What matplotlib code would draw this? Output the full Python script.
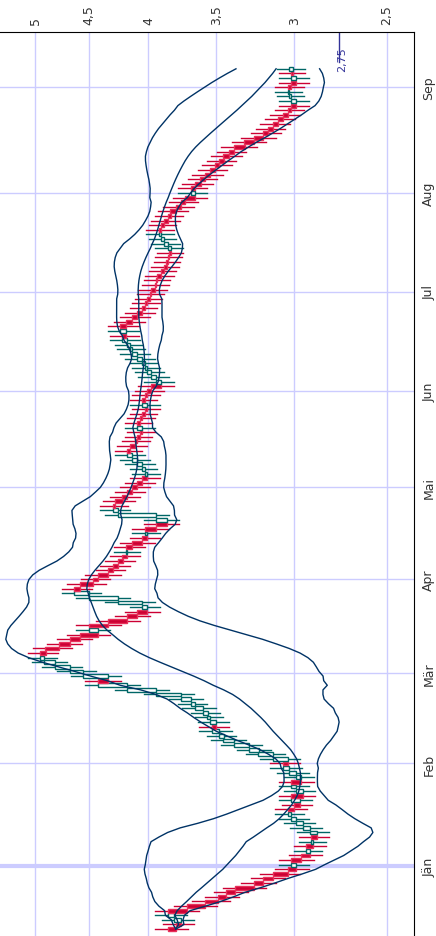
import numpy as np
import matplotlib
matplotlib.use("Agg")
import matplotlib.pyplot as plt
from matplotlib.ticker import FixedLocator, NullLocator

closes = [3.79,3.75,3.80,3.85,3.71,3.58,3.49,3.43,3.37,3.25,
          3.19,3.13,3.04,2.99,3.02,2.96,2.91,2.93,2.89,2.90,
          2.87,2.91,2.95,2.99,3.02,3.04,3.00,2.97,3.02,2.95,
          2.99,3.02,2.96,2.99,3.03,3.07,3.04,3.13,3.22,3.28,
          3.38,3.45,3.48,3.53,3.50,3.54,3.56,3.59,3.65,3.68,
          3.75,3.94,4.17,4.42,4.33,4.55,4.67,4.81,4.91,4.95,
          4.90,4.77,4.67,4.58,4.42,4.50,4.33,4.17,4.09,4.01,
          4.05,4.25,4.50,4.63,4.58,4.46,4.42,4.33,4.29,4.25,
          4.21,4.17,4.18,4.13,4.05,4.01,4.03,3.94,3.86,3.94,
          4.25,4.29,4.27,4.21,4.17,4.13,4.09,4.05,4.01,4.03,
          4.05,4.09,4.13,4.17,4.15,4.11,4.09,4.07,4.05,4.09,
          4.07,4.05,4.03,4.01,4.05,4.03,4.01,3.98,3.90,3.94,
          3.98,4.01,4.03,4.05,4.09,4.13,4.15,4.17,4.21,4.18,
          4.23,4.18,4.13,4.09,4.05,4.03,4.01,3.99,3.98,3.95,
          3.94,3.93,3.90,3.88,3.86,3.85,3.84,3.83,3.85,3.88,
          3.90,3.92,3.90,3.88,3.85,3.83,3.79,3.75,3.72,3.65,
          3.68,3.65,3.61,3.58,3.54,3.51,3.48,3.45,3.41,3.38,
          3.31,3.25,3.19,3.16,3.13,3.10,3.07,3.04,3.02,2.99,
          3.02,3.03,3.04,3.02,2.99,3.02,3.01,3.03]
first_open = 3.85
month_pos = [13.7, 36, 55.7, 76, 96, 117, 138.5, 160, 183]
month_labels = ["Jän", "Feb", "Mär", "Apr", "Mai", "Jun", "Jul", "Aug", "Sep"]
price_ticks = [5, 4.5, 4, 3.5, 3, 2.5]
price_labels = ["5", "4,5", "4", "3,5", "3", "2,5"]
last_label = "2,75"

c = np.array(closes)
o = np.concatenate([[first_open], c[:-1]])
n = len(c)
idx = np.arange(n)
hi = np.maximum(o, c) * 1.025
lo = np.minimum(o, c) / 1.025

fig = plt.figure(figsize=(4.36, 9.37), dpi=100)
ax = fig.add_axes([0, 0, 414/436, 1 - 33/937])
ax.set_xscale("log")

red, teal = "#cc0033", "#006666"
for i in range(n):
    up = c[i] >= o[i]
    col = teal if up else red
    ax.plot([lo[i], hi[i]], [i, i], color=col, lw=1, zorder=3)
    left, w = min(o[i], c[i]), abs(c[i] - o[i]) + 1e-3
    if up:
        ax.barh(i, w, left=left, height=0.85, facecolor="white", edgecolor=col, lw=1, zorder=4)
    else:
        ax.barh(i, w, left=left, height=0.85, facecolor=red, edgecolor="#e8305a", lw=1, zorder=4)

s = np.array([c[max(0, i-19):i+1].mean() for i in range(n)])
sd = np.array([c[max(0, i-19):i+1].std() for i in range(n)])
for line in (s, s + 2*sd, s - 2*sd):
    ax.plot(line, idx, color="#003366", lw=1, zorder=5)

ax.set_xlim(5.36, 2.37)
ax.set_ylim(-1.5, 195)
ax.xaxis.set_major_locator(FixedLocator(price_ticks))
ax.xaxis.set_minor_locator(NullLocator())
ax.set_xticklabels(price_labels, rotation=90, fontsize=9, color="#333333")
ax.xaxis.tick_top()
ax.yaxis.set_major_locator(FixedLocator(month_pos))
ax.set_yticklabels(month_labels, rotation=90, fontsize=9, color="#333333", va="center")
ax.yaxis.tick_right()
ax.tick_params(length=0, pad=6)
ax.grid(True, color="#ccccff", lw=1)
ax.axhline(month_pos[0], color="#ccccff", lw=3, zorder=1)
for sp in ["left", "bottom"]:
    ax.spines[sp].set_visible(False)
ax.axvline(2.75, ymin=1 - 30/904, ymax=1, color="#333399", lw=1)
ax.text(2.76, 192, last_label, rotation=90, fontsize=8, color="#333399", ha="left", va="top")

fig.savefig("out.png", dpi=100)
